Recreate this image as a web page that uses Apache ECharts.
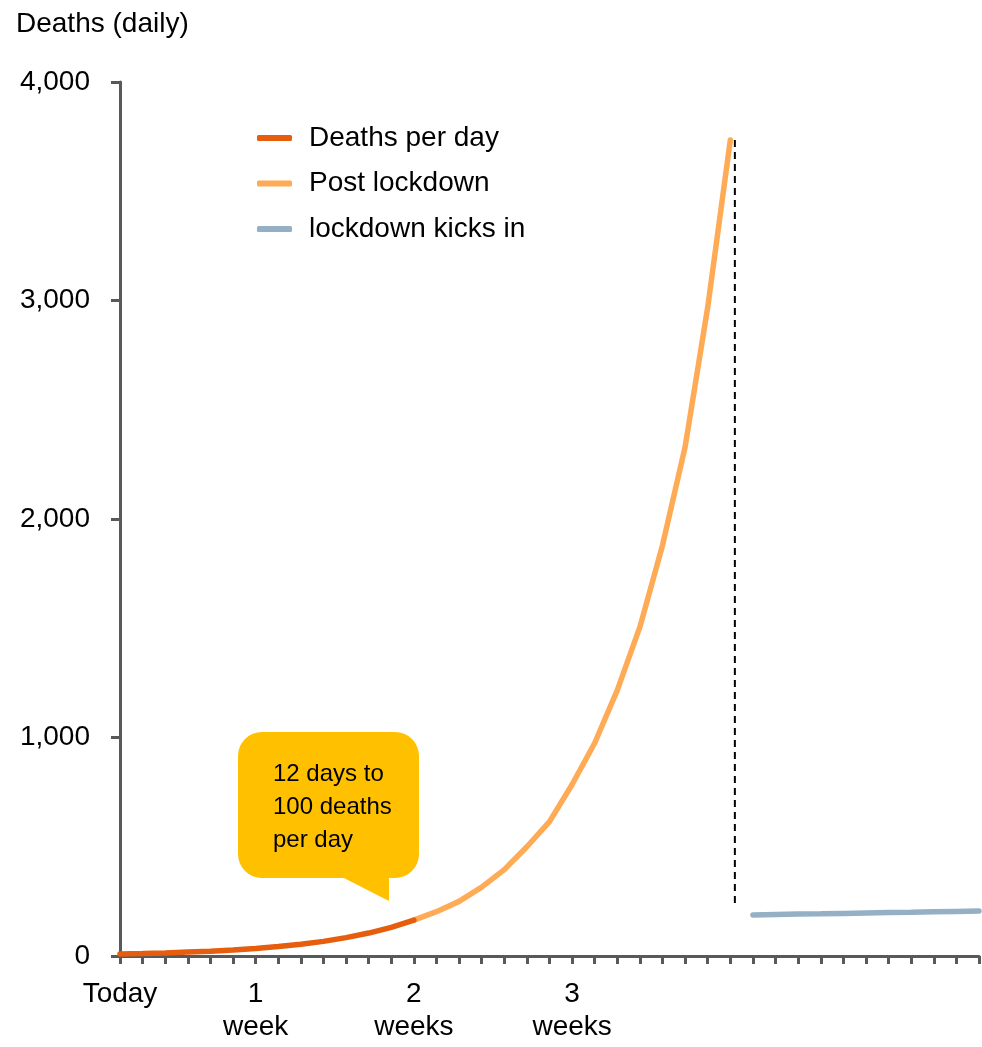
<!DOCTYPE html>
<html>
<head>
<meta charset="utf-8">
<script src="https://cdn.jsdelivr.net/npm/echarts@6/dist/echarts.min.js"></script>
<style>
html,body{margin:0;padding:0;background:#fff;}
#chart{width:982px;height:1047px;}
</style>
</head>
<body>
<div id="chart"></div>
<script>
// ---- data ----
const seriesNames = ['Deaths per day', 'Post lockdown', 'lockdown kicks in'];
const deathsPerDayStart = 0;
const deathsPerDay = [9, 11, 14, 18, 22, 27, 34, 43, 54, 67, 84, 105, 131, 164];           // days 0-13
const postLockdownStart = 13;
const postLockdown = [164, 203, 250, 315, 395, 500, 615, 785, 975, 1217, 1506, 1880, 2330, 2970, 3735]; // days 13-27
const lockdownStart = 28;
const lockdownKicksIn = [188, 190, 192, 193, 195, 197, 199, 200, 202, 204, 206];         // days 28-38
const lockdownMarkerDay = [27.2, 27.2];
const lockdownMarkerValue = [3735, 220];
const xLabelDays = [0, 6, 13, 20];
const xLabelTexts = ['Today', '1\nweek', '2\nweeks', '3\nweeks'];
const xMin = 0, xMax = 38;
const yTicks = [0, 1000, 2000, 3000, 4000];
const calloutText = '12 days to\n100 deaths\nper day';

const toPairs = (start, arr) => arr.map((v, i) => [start + i, v]);
const FONT = '"Liberation Sans", Arial, sans-serif';

const chart = echarts.init(document.getElementById('chart'), null, {renderer: 'canvas'});
chart.setOption({
  animation: false,
  backgroundColor: '#ffffff',
  title: {
    text: 'Deaths (daily)', left: 16, top: 10, padding: 0,
    textStyle: {fontFamily: FONT, fontSize: 28, fontWeight: 'normal', color: '#000', lineHeight: 28}
  },
  legend: {
    data: seriesNames,
    orient: 'vertical',
    left: 252, top: 116,
    itemWidth: 35, itemHeight: 6,
    itemGap: 11.5,
    icon: 'roundRect',
    textStyle: {fontFamily: FONT, fontSize: 28, color: '#000', lineHeight: 34, padding: [0, 0, 0, 12]}
  },
  grid: {left: 120, right: 2, top: 82, bottom: 91, containLabel: false},
  xAxis: {
    type: 'value', min: xMin, max: xMax, interval: 1,
    axisLine: {show: true, lineStyle: {color: '#595959', width: 3}},
    axisTick: {show: true, inside: false, length: 8, lineStyle: {color: '#595959', width: 3}},
    splitLine: {show: false},
    axisLabel: {
      margin: 22, fontFamily: FONT, fontSize: 28, color: '#000', lineHeight: 33, verticalAlign: 'top',
      showMinLabel: true, showMaxLabel: true,
      formatter: v => { const i = xLabelDays.indexOf(v); return i >= 0 ? xLabelTexts[i] : ''; }
    }
  },
  yAxis: {
    type: 'value', min: yTicks[0], max: yTicks[yTicks.length - 1], interval: yTicks[1] - yTicks[0],
    axisLine: {show: true, lineStyle: {color: '#595959', width: 3}},
    axisTick: {show: true, inside: false, length: 9, lineStyle: {color: '#595959', width: 3}},
    splitLine: {show: false},
    axisLabel: {
      margin: 30, fontFamily: FONT, fontSize: 28, color: '#000',
      formatter: v => v.toLocaleString('en-US')
    }
  },
  series: [
    {
      name: seriesNames[0], type: 'line', symbol: 'none', color: '#E65D0E', z: 3,
      lineStyle: {width: 5.5, color: '#E65D0E', cap: 'round'},
      data: toPairs(deathsPerDayStart, deathsPerDay)
    },
    {
      name: seriesNames[1], type: 'line', symbol: 'none', color: '#FFAA55', z: 2,
      lineStyle: {width: 5.5, color: '#FFAA55', cap: 'round'},
      data: toPairs(postLockdownStart, postLockdown)
    },
    {
      name: seriesNames[2], type: 'line', symbol: 'none', color: '#95B0C5', z: 2,
      lineStyle: {width: 5.5, color: '#95B0C5', cap: 'round'},
      data: toPairs(lockdownStart, lockdownKicksIn)
    },
    {
      name: 'marker', type: 'line', symbol: 'none', z: 4,
      lineStyle: {width: 2, color: '#000', type: [7, 5]},
      data: lockdownMarkerDay.map((d, i) => [d, lockdownMarkerValue[i]])
    }
  ],
  graphic: [
    {
      type: 'group', z: 10,
      children: [
        {type: 'rect', shape: {x: 238, y: 732, width: 181, height: 146, r: 24}, style: {fill: '#FFC000'}},
        {type: 'polygon', shape: {points: [[340, 876], [389, 901], [389, 876]]}, style: {fill: '#FFC000'}},
        {type: 'text', x: 273, y: 758, style: {text: calloutText, font: '24px ' + FONT, lineHeight: 33, fill: '#000', verticalAlign: 'top'}}
      ]
    }
  ]
});
</script>
</body>
</html>
